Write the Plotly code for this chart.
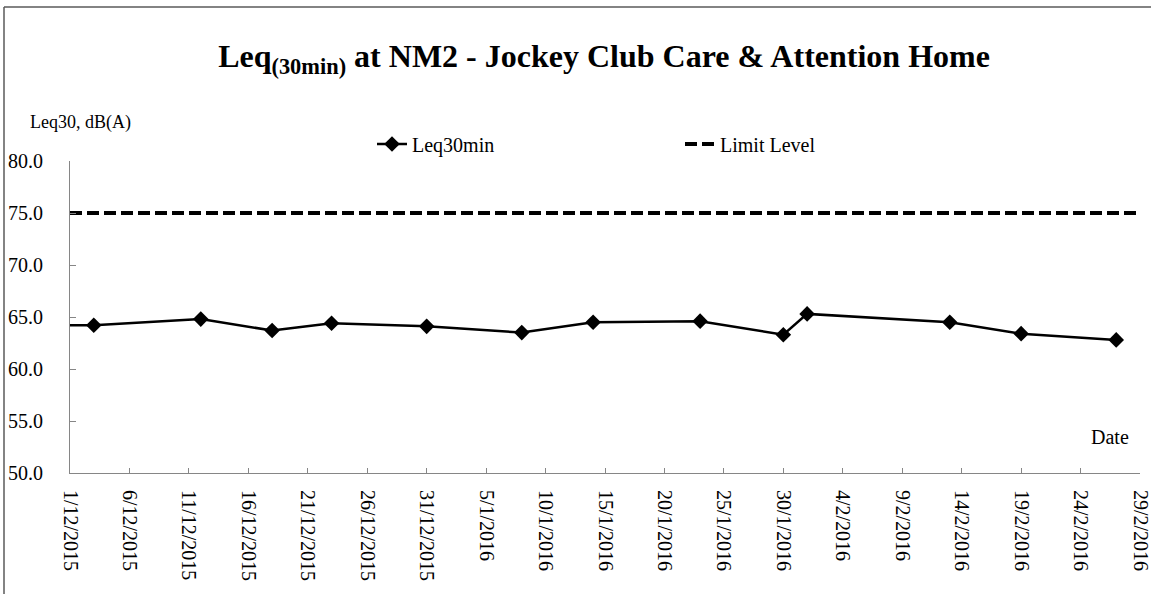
import plotly.graph_objects as go

# ---- data ----
dates = ["2015-11-28", "2015-12-03", "2015-12-12", "2015-12-18", "2015-12-23",
         "2015-12-31", "2016-01-08", "2016-01-14", "2016-01-23", "2016-01-30",
         "2016-02-01", "2016-02-13", "2016-02-19", "2016-02-27"]
leq30 = [64.2, 64.2, 64.8, 63.7, 64.4, 64.1, 63.5, 64.5, 64.6, 63.3,
         65.3, 64.5, 63.4, 62.8]
limit_dates = ["2015-12-01", "2016-02-29 00:00:01"]
limit_values = [75, 75]

x_range = ["2015-12-01", "2016-02-29 00:00:01"]
y_range = [50, 80]

FONT = "Liberation Serif, Times New Roman, Tinos, DejaVu Serif, serif"
AXIS_GRAY = "#868686"
BORDER_GRAY = "#5a5a5a"

fig = go.Figure()
fig.add_trace(go.Scatter(
    x=dates, y=leq30, name="Leq30min", mode="lines+markers",
    line=dict(color="black", width=2.5),
    marker=dict(symbol="diamond", size=12, color="black"),
))
fig.add_trace(go.Scatter(
    x=limit_dates, y=limit_values, name="Limit Level", mode="lines",
    line=dict(color="black", width=4, dash="12px,5px"),
))

W, H = 1151, 594
ml, mr, mt, mb = 70, 11, 161, 121
pw = W - ml - mr
ph = H - mt - mb

def px_x(px):
    return (px - ml) / pw

def px_y(py):
    return (H - mb - py) / ph

fig.update_layout(
    width=W, height=H,
    margin=dict(l=ml, r=mr, t=mt, b=mb, autoexpand=False),
    paper_bgcolor="white", plot_bgcolor="white",
    font=dict(family=FONT, color="black", size=20),
    title=dict(
        text="<b>Leq<sub>(30min)</sub> at NM2 - Jockey Club Care &amp; Attention Home</b>",
        x=604 / W, xanchor="center", xref="container",
        y=1 - 56 / H, yanchor="middle", yref="container",
        font=dict(family=FONT, size=32, color="black"),
    ),
    showlegend=True,
    legend=dict(
        orientation="h", x=px_x(372), xanchor="left",
        y=px_y(144), yanchor="middle",
        font=dict(family=FONT, size=20, color="black"),
        entrywidth=263, entrywidthmode="pixels",
        bgcolor="rgba(0,0,0,0)",
    ),
    xaxis=dict(
        type="date", range=x_range, automargin=False,
        tick0="2015-12-01", dtick=5 * 86400000,
        tickformat="%-d/%-m/%Y", tickangle=90,
        ticks="inside", ticklen=5, tickcolor=AXIS_GRAY,
        showline=True, linecolor=AXIS_GRAY, linewidth=1,
        showgrid=False, zeroline=False,
        ticklabelstandoff=12, ticklabeloverflow="allow",
        tickfont=dict(family=FONT, size=20, color="black"),
    ),
    yaxis=dict(
        range=y_range, dtick=5, tick0=50, tickformat=".1f", automargin=False,
        ticks="inside", ticklen=6, tickcolor=AXIS_GRAY,
        showline=True, linecolor=AXIS_GRAY, linewidth=1,
        showgrid=False, zeroline=False,
        ticklabelstandoff=22, ticklabeloverflow="allow",
        tickfont=dict(family=FONT, size=20, color="black"),
    ),
    annotations=[
        dict(text="Leq30, dB(A)", xref="paper", yref="paper",
             x=px_x(28), y=px_y(122), xanchor="left", yanchor="middle",
             showarrow=False, font=dict(family=FONT, size=18, color="black")),
        dict(text="Date", xref="paper", yref="paper",
             x=px_x(1131), y=px_y(437), xanchor="right", yanchor="middle",
             showarrow=False, font=dict(family=FONT, size=20, color="black")),
    ],
    shapes=[
        dict(type="line", xref="paper", yref="paper",
             x0=px_x(4), x1=px_x(4), y0=px_y(H + 10), y1=px_y(7),
             line=dict(color=BORDER_GRAY, width=1.5), layer="above"),
        dict(type="line", xref="paper", yref="paper",
             x0=px_x(4), x1=px_x(W + 10), y0=px_y(7), y1=px_y(7),
             line=dict(color=BORDER_GRAY, width=1.5), layer="above"),
    ],
)

fig.write_html(
    "out.html",
    config={"displayModeBar": False},
    post_script="document.body.style.margin='0';document.body.style.padding='0';document.body.style.overflow='hidden';",
)
